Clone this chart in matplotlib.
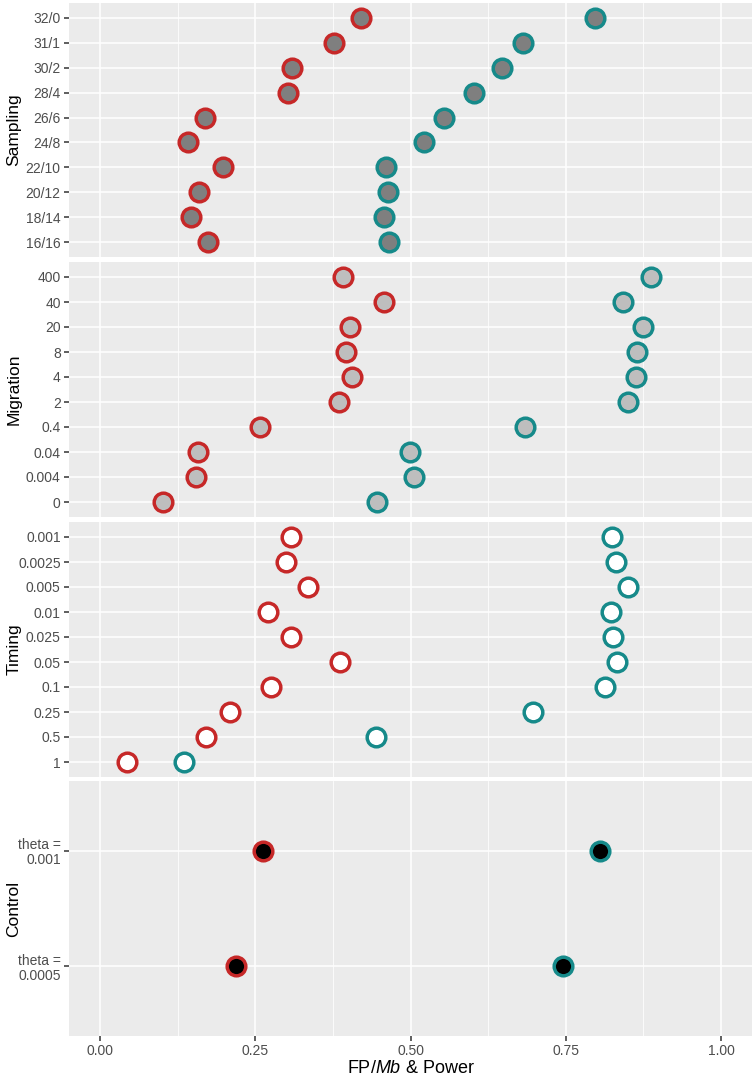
import matplotlib.pyplot as plt

plt.rcParams['font.family'] = ['Liberation Sans', 'DejaVu Sans']
plt.rcParams['mathtext.fontset'] = 'custom'
plt.rcParams['mathtext.it'] = 'Liberation Sans:italic'
plt.rcParams['mathtext.rm'] = 'Liberation Sans'

# categories, top to bottom
sampling_labels = ["32/0", "31/1", "30/2", "28/4", "26/6", "24/8", "22/10", "20/12", "18/14", "16/16"]
sampling_fp = [0.420, 0.376, 0.309, 0.302, 0.169, 0.142, 0.198, 0.159, 0.147, 0.174]
sampling_power = [0.797, 0.681, 0.647, 0.602, 0.554, 0.521, 0.461, 0.464, 0.457, 0.465]

migration_labels = ["400", "40", "20", "8", "4", "2", "0.4", "0.04", "0.004", "0"]
migration_fp = [0.391, 0.457, 0.403, 0.396, 0.406, 0.385, 0.257, 0.157, 0.155, 0.101]
migration_power = [0.888, 0.843, 0.875, 0.865, 0.863, 0.851, 0.685, 0.499, 0.505, 0.446]

timing_labels = ["0.001", "0.0025", "0.005", "0.01", "0.025", "0.05", "0.1", "0.25", "0.5", "1"]
timing_fp = [0.307, 0.299, 0.335, 0.271, 0.307, 0.387, 0.275, 0.209, 0.170, 0.044]
timing_power = [0.824, 0.831, 0.850, 0.823, 0.826, 0.833, 0.814, 0.697, 0.444, 0.135]

control_labels = ["theta =\n0.001", "theta =\n0.0005"]
control_fp = [0.262, 0.219]
control_power = [0.805, 0.746]

panels = [
    ("Sampling", sampling_labels, sampling_fp, sampling_power, "#7F7F7F"),
    ("Migration", migration_labels, migration_fp, migration_power, "#BEBEBE"),
    ("Timing", timing_labels, timing_fp, timing_power, "white"),
    ("Control", control_labels, control_fp, control_power, "black"),
]
red = "#C62828"
teal = "#168A8A"

W, H = 755, 1078
fig = plt.figure(figsize=(W / 100, H / 100), dpi=100)
fig.patch.set_facecolor("white")

# panel extents in pixels (top, bottom)
rows = [(3, 257), (262, 517), (522, 777), (781, 1036)]
left, right = 69, 752

for k, (name, labels, fp, pw, fill) in enumerate(panels):
    top, bot = rows[k]
    ax = fig.add_axes([left / W, 1 - bot / H, (right - left) / W, (bot - top) / H])
    ax.set_facecolor("#EBEBEB")
    n = len(labels)
    ys = list(range(n))
    ax.set_xlim(-0.05, 1.05)
    ax.set_ylim(n - 1 + 0.6, -0.6)
    ax.set_xticks([0, 0.25, 0.5, 0.75, 1.0])
    ax.set_xticks([0.125, 0.375, 0.625, 0.875], minor=True)
    ax.set_yticks(ys)
    ax.set_yticklabels(labels, ha="right", multialignment="right", linespacing=1.05)
    ax.grid(which="major", color="white", lw=1.1)
    ax.grid(which="minor", axis="x", color="white", lw=0.55)
    ax.set_axisbelow(True)
    for s in ax.spines.values():
        s.set_visible(False)
    ax.tick_params(axis="y", length=3.5, width=1.1, color="#333333",
                   labelsize=10, labelcolor="#4D4D4D", pad=2.5)
    ax.tick_params(axis="x", which="minor", length=0)
    if k < 3:
        ax.tick_params(axis="x", which="major", length=0, labelbottom=False)
    else:
        ax.tick_params(axis="x", which="major", length=3.5, width=1.1, color="#333333",
                       labelsize=10, labelcolor="#4D4D4D", pad=2.5)
        ax.set_xticklabels(["0.00", "0.25", "0.50", "0.75", "1.00"])
        ax.set_xlabel(r"FP/$\mathit{Mb}$ & Power", fontsize=13, labelpad=1)
    ax.scatter(fp, ys, s=180, c=fill, edgecolors=red, linewidths=2.5, zorder=3)
    ax.scatter(pw, ys, s=180, c=fill, edgecolors=teal, linewidths=2.5, zorder=3)
    fig.text(14 / W, 1 - (top + bot) / 2 / H, name, rotation=90,
             ha="center", va="center", fontsize=12.5, color="black")

fig.savefig("out.png", dpi=100)
